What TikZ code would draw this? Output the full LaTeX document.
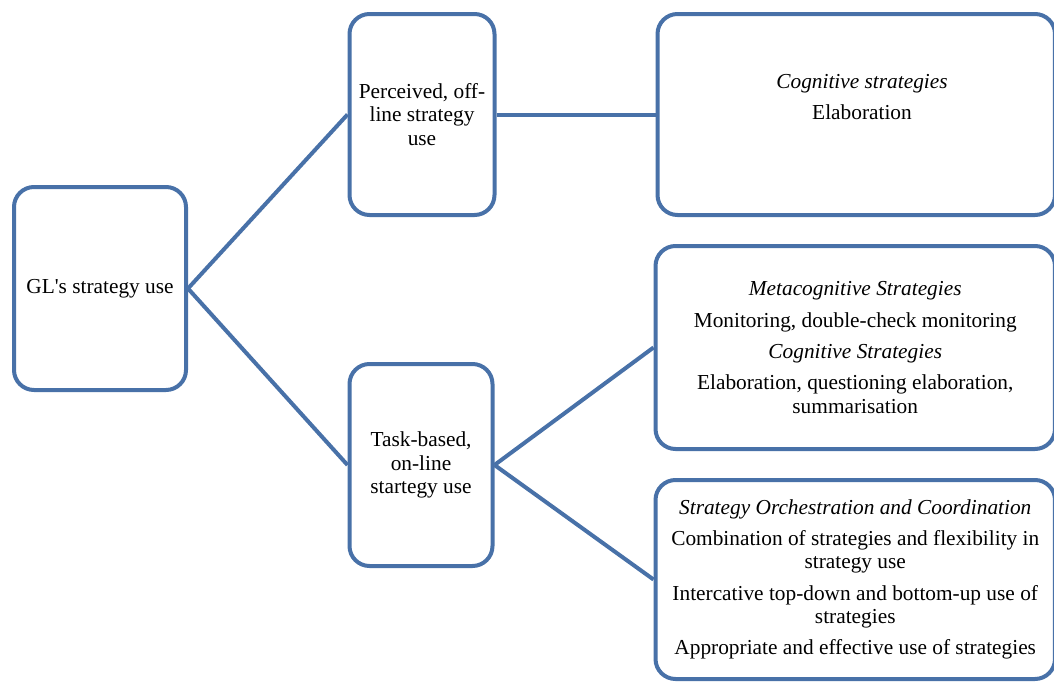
\documentclass[tikz,border=0pt]{standalone}
\usepackage{fontspec}
\setmainfont{Liberation Serif}
\usepackage{xcolor}
\usepackage{tikz}

\definecolor{smartblue}{RGB}{72,113,168}

\begin{document}
\begin{tikzpicture}[x=0.75pt,y=-0.75pt,
	box/.style={draw=smartblue,line width=3pt,rounded corners=15pt,fill=white,align=center,inner sep=0pt},
	boxsize/.style 2 args={minimum width=#1,minimum height=#2},
	link/.style={draw=smartblue,line width=3pt},
	every node/.style={font=\fontsize{16}{17.5}\selectfont}]
			\useasboundingbox (0,0) rectangle (1054,682);
			
			% root and the two kinds of use
			\node[box,boxsize={129pt}{152.25pt}] (gl) at (100,288.5) {GL\textquotesingle s strategy use};
			\node[box,boxsize={108.75pt}{150.75pt}] (offline) at (422,114.5) {Perceived, off-\\line strategy\\use};
			\node[box,boxsize={107.25pt}{151.5pt}] (online) at (421,465) {Task-based,\\on-line\\startegy use};
			
			% strategy boxes on the right
			\node[box,boxsize={298.1pt}{150.75pt}] (cog) at (856.25,114.5) {};
			\node[align=center] (cogtxt) at (862,97) {\textit{Cognitive strategies}\\[6pt]Elaboration};
			\node[box,boxsize={299.6pt}{152.25pt}] (meta) at (855.25,347.5) {%
				\textit{Metacognitive Strategies}\\[6pt]
				Monitoring, double-check monitoring\\[6pt]
				\textit{Cognitive Strategies}\\[6pt]
				Elaboration, questioning elaboration,\\summarisation};
			\node[box,boxsize={299.6pt}{149.25pt}] (orch) at (855.25,579.5) {%
				\textit{Strategy Orchestration and Coordination}\\[6pt]
				Combination of strategies and flexibility in\\strategy use\\[6pt]
				Intercative top-down and bottom-up use of\\strategies\\[6pt]
				Appropriate and effective use of strategies};
			
			% connectors
			\draw[link] (gl.east) -- (offline.west);
			\draw[link] (gl.east) -- (online.west);
			\draw[link] (offline.east) -- (cog.west);
			\draw[link] (online.east) -- (meta.west);
			\draw[link] (online.east) -- (orch.west);
		\end{tikzpicture}
\end{document}
